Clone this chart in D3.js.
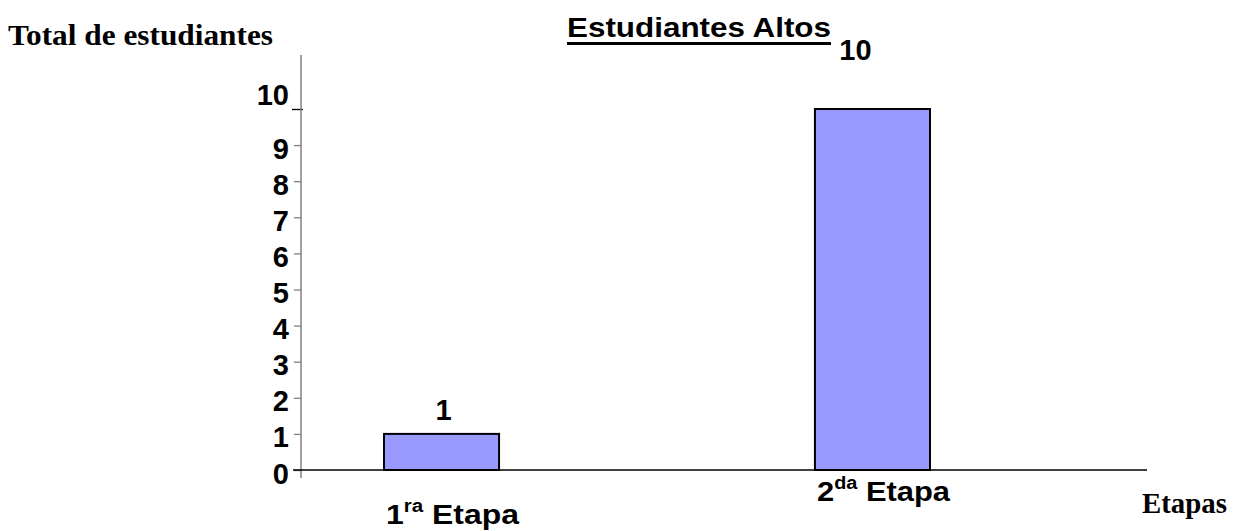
<!DOCTYPE html>
<html>
<head>
<meta charset="utf-8">
<script src="https://cdn.jsdelivr.net/npm/d3@7/dist/d3.min.js"></script>
<style>
  html, body { margin: 0; padding: 0; background: #fff; }
  svg { display: block; }
</style>
</head>
<body>
<svg id="chart" width="1238" height="531"></svg>
<script>
// ---- data ----
const categories = ["1", "2"];
const categorySup = ["ra", "da"];
const categoryWord = ["Etapa", "Etapa"];
const values = [1, 10];
const yTicks = [0, 1, 2, 3, 4, 5, 6, 7, 8, 9, 10];
const titleText = "Estudiantes Altos";
const yTitleText = "Total de estudiantes";
const xTitleText = "Etapas";

// ---- layout ----
const svg = d3.select("#chart");
const sans = "'Liberation Sans', Arial, sans-serif";
const serif = "'Liberation Serif', 'Times New Roman', serif";

const axisX = 301;
const y = d3.scaleLinear().domain([0, 10]).range([470, 109]);
const x = d3.scaleBand().domain(categories).range([384, 930]).paddingInner(0.733).paddingOuter(0);

// y axis
const yAxis = d3.axisLeft(y).tickValues(yTicks).tickSize(7).tickFormat(d3.format("d"));
const gy = svg.append("g").attr("transform", `translate(${axisX},0)`).call(yAxis);
gy.select(".domain").remove();
gy.selectAll(".tick line").attr("stroke", "#808080").attr("stroke-width", 1.3);
gy.selectAll(".tick text")
  .attr("x", -12)
  .attr("dy", d => d === 10 ? "-0.15em" : "0.45em")
  .attr("font-family", sans)
  .attr("font-weight", "bold")
  .attr("font-size", 29)
  .attr("fill", "#000");
gy.selectAll(".tick").filter(d => d === 10).select("line")
  .attr("stroke", "#000").attr("x2", -9).attr("x1", 2);

// y axis line (grey)
svg.append("line")
  .attr("x1", axisX).attr("x2", axisX)
  .attr("y1", 55).attr("y2", y(0) + 8)
  .attr("stroke", "#808080").attr("stroke-width", 1.5);

// bars
svg.selectAll("rect.bar").data(values).enter().append("rect")
  .attr("class", "bar")
  .attr("x", (d, i) => x(categories[i]))
  .attr("y", d => y(d))
  .attr("width", x.bandwidth())
  .attr("height", d => y(0) - y(d))
  .attr("fill", "#9999FF")
  .attr("stroke", "#000")
  .attr("stroke-width", 2);

// x axis line
svg.append("line")
  .attr("x1", 293).attr("x2", 1147)
  .attr("y1", y(0)).attr("y2", y(0))
  .attr("stroke", "#000").attr("stroke-width", 1.5);

// value labels
const valueShift = [[2, -14], [-17, -49]];
svg.selectAll("text.val").data(values).enter().append("text")
  .attr("class", "val")
  .attr("x", (d, i) => x(categories[i]) + x.bandwidth() / 2 + valueShift[i][0])
  .attr("y", (d, i) => y(d) + valueShift[i][1])
  .attr("text-anchor", "middle")
  .attr("font-family", sans)
  .attr("font-weight", "bold")
  .attr("font-size", 29)
  .text(d => d);

// category labels (staggered)
const catBaseline = [524, 501];
categories.forEach((c, i) => {
  const t = svg.append("text")
    .attr("x", x(c) + x.bandwidth() / 2 + 11)
    .attr("y", catBaseline[i])
    .attr("text-anchor", "middle")
    .attr("font-family", sans)
    .attr("font-weight", "bold")
    .attr("font-size", 28)
    .attr("textLength", 133)
    .attr("lengthAdjust", "spacingAndGlyphs");
  t.append("tspan").text(c);
  t.append("tspan").attr("font-size", 18).attr("dy", -12).text(categorySup[i]);
  t.append("tspan").attr("dy", 12).text(" " + categoryWord[i]);
});

// title
svg.append("text")
  .attr("x", 567).attr("y", 37)
  .attr("font-family", sans)
  .attr("font-weight", "bold")
  .attr("font-size", 28)
  .attr("textLength", 264)
  .attr("lengthAdjust", "spacingAndGlyphs")
  .text(titleText);
svg.append("line")
  .attr("x1", 567).attr("x2", 831)
  .attr("y1", 43.5).attr("y2", 43.5)
  .attr("stroke", "#000").attr("stroke-width", 3);

// axis titles
svg.append("text")
  .attr("x", 8).attr("y", 45)
  .attr("font-family", serif)
  .attr("font-weight", "bold")
  .attr("font-size", 29)
  .attr("textLength", 265)
  .attr("lengthAdjust", "spacingAndGlyphs")
  .text(yTitleText);
svg.append("text")
  .attr("x", 1142).attr("y", 513)
  .attr("font-family", serif)
  .attr("font-weight", "bold")
  .attr("font-size", 29)
  .attr("textLength", 85)
  .attr("lengthAdjust", "spacingAndGlyphs")
  .text(xTitleText);
</script>
</body>
</html>
